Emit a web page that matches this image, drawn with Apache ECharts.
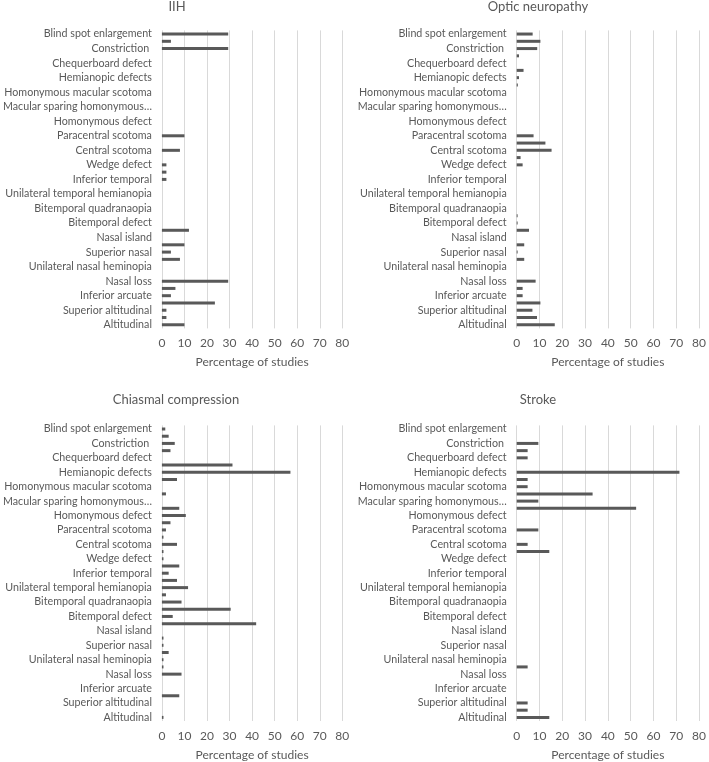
<!DOCTYPE html>
<html>
<head>
<meta charset="utf-8">
<script src="https://cdn.jsdelivr.net/npm/echarts@6/dist/echarts.min.js"></script>
<style>
html,body{margin:0;padding:0;background:#fff;}
#chart{width:709px;height:762px;}
</style>
</head>
<body>
<div id="chart"></div>
<script>
// 41 categories, top to bottom; every second label is hidden in the original
const categories = [
  'Blind spot enlargement', '', 'Constriction ', '', 'Chequerboard defect', '',
  'Hemianopic defects', '', 'Homonymous macular scotoma', '', 'Macular sparing homonymous…', '',
  'Homonymous defect', '', 'Paracentral scotoma', '', 'Central scotoma', '',
  'Wedge defect', '', 'Inferior temporal', '', 'Unilateral temporal hemianopia', '',
  'Bitemporal quadranaopia', '', 'Bitemporal defect', '', 'Nasal island', '',
  'Superior nasal', '', 'Unilateral nasal heminopia', '', 'Nasal loss', '',
  'Inferior arcuate', '', 'Superior altitudinal', '', 'Altitudinal'
];

const panelTitles = ['IIH', 'Optic neuropathy', 'Chiasmal compression', 'Stroke'];

const iihValues = [29.4, 4, 29.4, 0, 0, 0, 0, 0, 0, 0, 0, 0, 0, 0, 10, 0, 8, 0, 2, 2, 2,
  0, 0, 0, 0, 0, 0, 12, 0, 10, 4, 8, 0, 0, 29.4, 6, 4, 23.5, 2, 2, 10];

const opticValues = [7, 10.4, 9, 1, 0, 3, 1, 0.5, 0, 0, 0, 0, 0, 0, 7.4, 12.6, 15.3, 1.7, 2.6, 0, 0,
  0, 0, 0, 0, 0.4, 0.4, 5.4, 0, 3.3, 0.4, 3.3, 0, 0, 8.3, 2.6, 2.6, 10.4, 6.9, 8.9, 16.7];

const chiasmalValues = [1.5, 3, 5.7, 3.8, 0, 31.3, 57, 6.7, 0, 1.8, 0, 7.7, 10.6, 3.8, 1.8, 0.7, 6.7, 0.7, 0.7, 7.7, 3,
  6.7, 11.6, 1.8, 8.7, 30.5, 4.8, 41.8, 0, 0.7, 0.7, 3, 0.7, 0.7, 8.7, 0, 0, 7.7, 0, 0, 0.7];

const strokeValues = [0, 0, 9.5, 4.8, 4.8, 0, 71.4, 4.8, 4.8, 33.3, 9.5, 52.4, 0, 0, 9.5, 0, 4.8, 14.3, 0, 0, 0,
  0, 0, 0, 0, 0, 0, 0, 0, 0, 0, 0, 0, 4.8, 0, 0, 0, 0, 4.8, 4.8, 14.3];

const allValues = [iihValues, opticValues, chiasmalValues, strokeValues];
const xAxisName = 'Percentage of studies';

const FONT = 'Lato, "Liberation Sans", sans-serif';
const TXT = '#595959';

// layout per panel
const panels = [
  { left: 154.3, width: 188, top: 30.4, titleX: 177, titleY: 0 },
  { left: 516.7, width: 186.7, top: 30.4, titleX: 538, titleY: 0 },
  { left: 154.3, width: 188, top: 425.4, titleX: 176, titleY: 393.5 },
  { left: 516.7, width: 186.7, top: 425.4, titleX: 538, titleY: 393.5 }
];
const gridHeight = 298;

const option = {
  animation: false,
  backgroundColor: '#fff',
  title: panels.map((p, i) => ({
    text: panelTitles[i],
    left: p.titleX,
    top: p.titleY,
    textAlign: 'center',
    padding: 0,
    textStyle: { fontFamily: FONT, fontSize: 13, fontWeight: 'normal', color: TXT }
  })),
  grid: panels.map(p => ({ left: p.left, top: p.top, width: p.width, height: gridHeight, containLabel: false })),
  xAxis: panels.map((p, i) => ({
    type: 'value',
    gridIndex: i,
    min: 0, max: 80, interval: 10,
    name: xAxisName,
    nameLocation: 'middle',
    nameGap: 28,
    nameTextStyle: { fontFamily: FONT, fontSize: 12, color: TXT },
    axisLine: { show: false },
    axisTick: { show: false },
    axisLabel: { fontFamily: FONT, fontSize: 12, color: TXT, margin: 9 },
    splitLine: { show: true, lineStyle: { color: '#d9d9d9', width: 1 } }
  })),
  yAxis: panels.map((p, i) => ({
    type: 'category',
    gridIndex: i,
    data: categories,
    inverse: true,
    axisLine: { show: false },
    axisTick: { show: false },
    axisLabel: { interval: 0, fontFamily: FONT, fontSize: 10.7, color: TXT, margin: 10 },
    splitLine: { show: false }
  })),
  series: allValues.map((vals, i) => ({
    type: 'bar',
    xAxisIndex: i,
    yAxisIndex: i,
    data: vals,
    barWidth: 3,
    itemStyle: { color: '#595959' },
    silent: true
  }))
};

const chart = echarts.init(document.getElementById('chart'), null, { renderer: 'canvas' });
chart.setOption(option);
</script>
</body>
</html>
